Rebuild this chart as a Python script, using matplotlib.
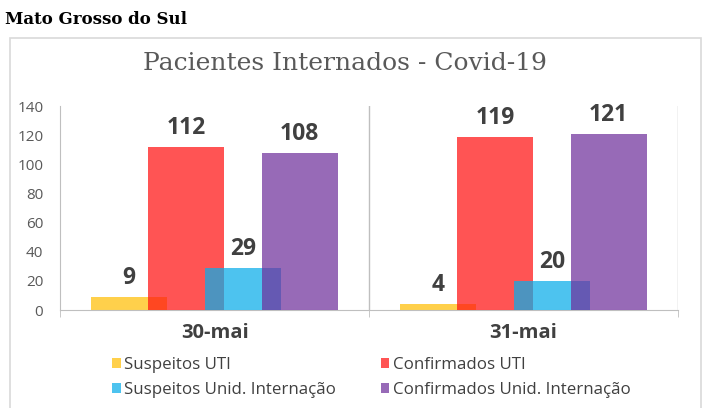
import numpy as np
import matplotlib.pyplot as plt
from matplotlib.patches import Patch, Rectangle

dates = ["30-mai", "31-mai"]
series = ["Suspeitos UTI", "Confirmados UTI", "Suspeitos Unid. Internação", "Confirmados Unid. Internação"]
suspeitos_uti = [9, 4]
confirmados_uti = [112, 119]
suspeitos_unid = [29, 20]
confirmados_unid = [108, 121]
values = [suspeitos_uti, confirmados_uti, suspeitos_unid, confirmados_unid]
colors = ["#ffbe06", "#ff1212", "#08ade9", "#6f309c"]
alpha = 0.72

plt.rcParams['font.family'] = ['Open Sans', 'DejaVu Sans']

fig = plt.figure(figsize=(7.05, 4.08), dpi=100)
ax = fig.add_axes([60 / 705, 1 - 310 / 408, 618 / 705, 204 / 408])

# chart frame
fig.patches.append(Rectangle((10 / 705, -0.01), 691 / 705, 1 - 38 / 408 + 0.01,
                             transform=fig.transFigure, fill=False,
                             edgecolor="#d9d9d9", linewidth=1.2))

x = np.arange(len(dates))
width = 0.245
step = 0.184
for i, (vals, c) in enumerate(zip(values, colors)):
    pos = x + (i - 1.5) * step
    ax.bar(pos, vals, width=width, color=c, alpha=alpha, zorder=2 + i, linewidth=0)
    for p, v in zip(pos, vals):
        ax.annotate(str(v), (p, v), xytext=(0, 5), textcoords="offset points",
                    ha="center", va="bottom", fontsize=16.5, fontweight="bold",
                    color="#404040", zorder=10)

ax.set_xlim(-0.5, 1.5)
ax.set_ylim(0, 140)
ax.set_yticks(range(0, 141, 20))
ax.set_xticks(x)
ax.set_xticklabels(dates, fontsize=14.5, fontweight="bold", color="#404040")
ax.set_xticks([-0.5, 0.5, 1.5], minor=True)
ax.tick_params(axis="x", which="major", length=0, pad=9)
ax.tick_params(axis="x", which="minor", length=5, color="#bfbfbf")
ax.tick_params(axis="y", length=0, labelsize=11, labelcolor="#595959", pad=12)
for s in ["top", "right"]:
    ax.spines[s].set_visible(False)
for s in ["left", "bottom"]:
    ax.spines[s].set_color("#bfbfbf")
for xv in [0.5, 1.5]:
    ax.axvline(xv, color="#bfbfbf", linewidth=1, zorder=1)

fig.text(345 / 705, 1 - 64 / 408, "Pacientes Internados - Covid-19", ha="center", va="center",
         fontsize=18, color="#595959", family="DejaVu Serif")
fig.text(5 / 705, 1 - 19 / 408, "Mato Grosso do Sul", ha="left", va="center",
         fontsize=12, fontweight="bold", family="DejaVu Serif", color="black")

handles = [Patch(facecolor=c, alpha=alpha) for c in colors]
order = [0, 2, 1, 3]
fig.legend([handles[i] for i in order], [series[i] for i in order], ncol=2,
           loc="upper left", bbox_to_anchor=(97 / 705, 1 - 342 / 408), frameon=False,
           fontsize=12.2, labelcolor="#404040", handlelength=0.5, handleheight=0.5,
           handletextpad=0.2, columnspacing=2.65, labelspacing=0.5)

fig.savefig("out.png", dpi=100)
